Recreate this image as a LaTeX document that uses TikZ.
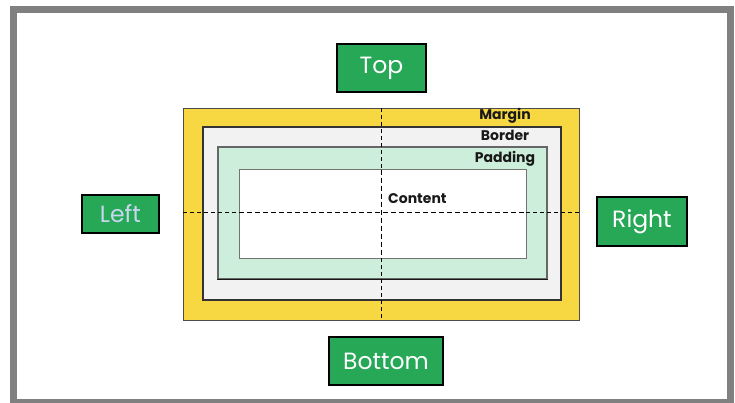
\documentclass[tikz,border=0pt]{standalone}
\usepackage{fontspec}
\newfontfamily\pop{Poppins}
\definecolor{boxgreen}{RGB}{38,168,86}
\definecolor{marginyellow}{RGB}{247,216,66}
\definecolor{borderfill}{RGB}{242,242,242}
\definecolor{padfill}{RGB}{205,238,218}
\definecolor{framegray}{RGB}{128,128,128}
\definecolor{lefttext}{RGB}{200,214,240}
\tikzset{
  layer/.style={rectangle, inner sep=0pt, anchor=center},
  sidebox/.style={rectangle, draw=black, line width=2pt, fill=boxgreen, text=white,
    inner sep=0pt, font=\pop\fontsize{23.5}{26}\selectfont},
  tag/.style={inner sep=0pt, font=\pop\bfseries\fontsize{14}{16}\selectfont, text=black!90},
  guide/.style={line width=0.7pt, dash pattern=on 4pt off 3pt},
  guidebold/.style={line width=1.4pt, dash pattern=on 5pt off 3pt}
}
\begin{document}
\begin{tikzpicture}[x=1pt,y=-1pt]
\useasboundingbox (0,0) rectangle (735,403);
\fill[white] (0,0) rectangle (735,403);
\draw[framegray, line width=7pt] (13.5,9.5) rectangle (730,402.5);

\node[layer, draw=black!70, line width=0.8pt, fill=marginyellow, minimum width=396pt, minimum height=212pt] (margin) at (381,214) {};
\node[layer, draw=black!80, line width=1.2pt, fill=borderfill, minimum width=358pt, minimum height=173pt] (border) at (382,213.5) {};
\node[layer, draw=black!60, line width=1.2pt, fill=padfill, minimum width=329pt, minimum height=132pt] (padding) at (382.5,213) {};
\draw[black!90, line width=1.6pt] (padding.south west) -- (padding.south east);
\node[layer, draw=black!55, line width=1pt, fill=white, minimum width=287pt, minimum height=88pt] (content) at (382.5,214) {};

\coordinate (vtop) at (381.7,108);
\coordinate (vct) at (381.7,170);
\coordinate (vcb) at (381.7,258);
\coordinate (vbot) at (381.7,320);
\coordinate (hleft) at (183,212.3);
\coordinate (hcl) at (239,212.3);
\coordinate (hcr) at (526,212.3);
\coordinate (hright) at (579,212.3);
\draw[guide] (vtop) -- (vct);
\draw[guide] (vcb) -- (vbot);
\draw[guide] (hleft) -- (hcl);
\draw[guide] (hcr) -- (hright);
\draw[guidebold] (vct) -- (vcb);
\draw[guidebold] (hcl) -- (hcr);

\node[tag] (mlabel) at (505,116) {Margin};
\node[tag] (blabel) at (505,135.5) {Border};
\node[tag] (plabel) at (505,158.5) {Padding};
\node[tag, anchor=west] (clabel) at (388,198.5) {Content};

\node[sidebox, minimum width=89pt, minimum height=48pt] (top) at (381.5,68) {Top};
\node[sidebox, minimum width=77pt, minimum height=38pt, text=lefttext] (left) at (120.5,214) {Left};
\node[sidebox, minimum width=90pt, minimum height=49pt] (right) at (642,221.5) {Right};
\node[sidebox, minimum width=114pt, minimum height=48pt] (bottom) at (386,361) {Bottom};
\end{tikzpicture}
\end{document}
